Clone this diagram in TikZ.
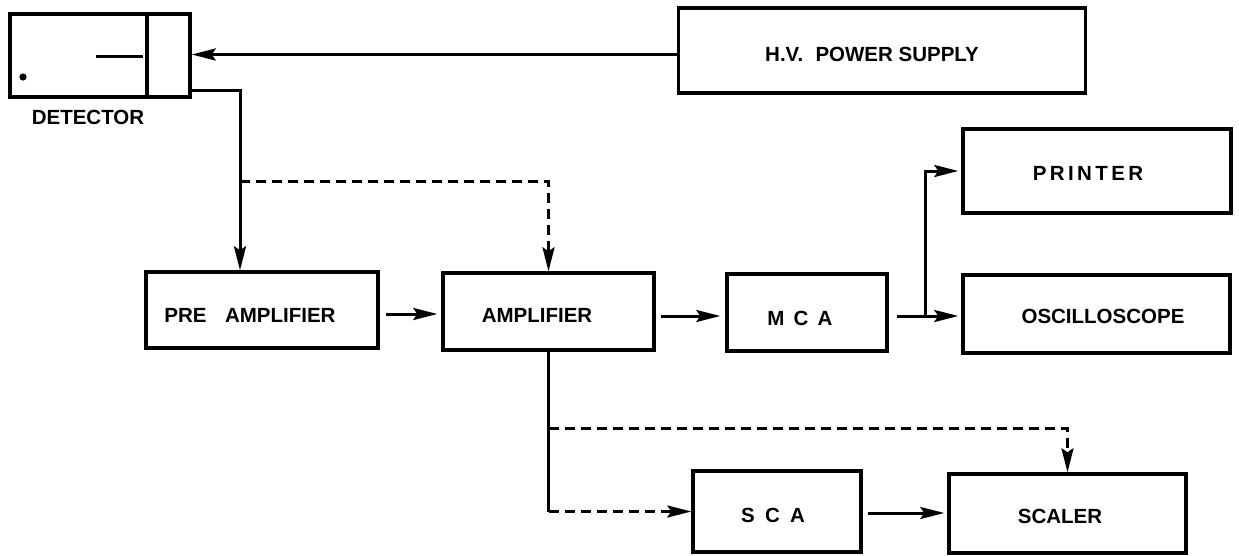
\documentclass[tikz,border=0pt]{standalone}
\usepackage{fontspec}
\setmainfont{Liberation Sans}
\usetikzlibrary{arrows.meta,calc}
\begin{document}
\begin{tikzpicture}[x=1pt,y=-1pt,
  box/.style={draw, line width=3.4pt, inner sep=0pt},
  lbl/.style={font=\fontsize{20.5}{24}\selectfont\bfseries, inner sep=0pt},
  conn/.style={line width=3pt},
  arr/.style={conn, -{Stealth[length=24pt,width=12pt,inset=4pt]}},
  dsh/.style={dash pattern=on 10pt off 6pt}]
\useasboundingbox[fill=white] (0,0) rectangle (1239,555);

% boxes
\node[box, minimum width=180pt, minimum height=83pt] (det) at (100,55.5) {};
\node[box, minimum width=407pt, minimum height=85pt] (hv) at (882,50.5) {};
\node[box, minimum width=232pt, minimum height=76pt] (pre) at (262,310) {};
\node[box, minimum width=211pt, minimum height=77pt] (amp) at (548.5,311.5) {};
\node[box, minimum width=160pt, minimum height=77pt] (mca) at (807,312.5) {};
\node[box, minimum width=268pt, minimum height=84pt] (printer) at (1097,171) {};
\node[box, minimum width=267pt, minimum height=78pt] (osc) at (1096.5,314) {};
\node[box, minimum width=168pt, minimum height=81pt] (sca) at (777,511.5) {};
\node[box, minimum width=237pt, minimum height=79pt] (scaler) at (1067.5,513.5) {};

% detector internals
\draw[box] (147,14) -- (147,97);
\draw[conn] (96,56) -- (143,56);
\fill (23,77) circle (3.6pt);

% labels
\node[lbl] (detl) at (88,117) {DETECTOR};
\node[lbl] (hvl) at (872,54) {H.V.\hspace{0.6em}POWER SUPPLY};
\node[lbl] (prel) at (250,315) {PRE\hspace{0.9em}AMPLIFIER};
\node[lbl] (ampl) at (537,315) {AMPLIFIER};
\node[lbl] (mcal) at (800,318) {M\hspace{0.45em}C\hspace{0.45em}A};
\node[lbl] (prl) at (1088,173) {P\,R\,I\,N\,T\,E\,R};
\node[lbl] (oscl) at (1103,316) {OSCILLOSCOPE};
\node[lbl] (scal) at (773,515) {S\hspace{0.5em}C\hspace{0.5em}A};
\node[lbl] (scll) at (1060,516) {SCALER};

% connectors
\coordinate (hvo) at ([yshift=-4pt]hv.west);
\draw[arr] (hvo) -- (hvo -| det.east);

\coordinate (deto) at ([yshift=8pt]det.south east);
\coordinate (j1) at (240,181);
\draw[arr] (deto) -| (j1) -- (j1 |- pre.north);
\draw[arr,dsh] (j1) -| (amp.north);

\coordinate (a1) at ([yshift=-4pt]pre.east);
\draw[arr,shorten <=6pt,shorten >=4pt] (a1) -- (a1 -| amp.west);

\coordinate (a2) at ([yshift=-4.5pt]amp.east);
\draw[arr,shorten <=5pt,shorten >=5pt] (a2) -- (a2 -| mca.west);

\coordinate (m1) at ([yshift=-3.5pt]mca.east);
\draw[arr,shorten <=8pt,shorten >=3pt] (m1) -- (m1 -| osc.west);
\coordinate (j2) at ($(m1)+(37,0)$);
\draw[arr,shorten >=3pt] (j2) |- (printer.west);

\coordinate (j3) at (amp.south |- sca.west);
\draw[conn] (amp.south) -- (j3);
\draw[arr,dsh] (j3) -- (sca.west);
\coordinate (j4) at ($(amp.south)+(0,77)$);
\draw[arr,dsh] (j4) -| (scaler.north);

\coordinate (s1) at ([yshift=-1.5pt]sca.east);
\draw[arr,shorten <=5pt,shorten >=3pt] (s1) -- (s1 -| scaler.west);
\end{tikzpicture}
\end{document}
